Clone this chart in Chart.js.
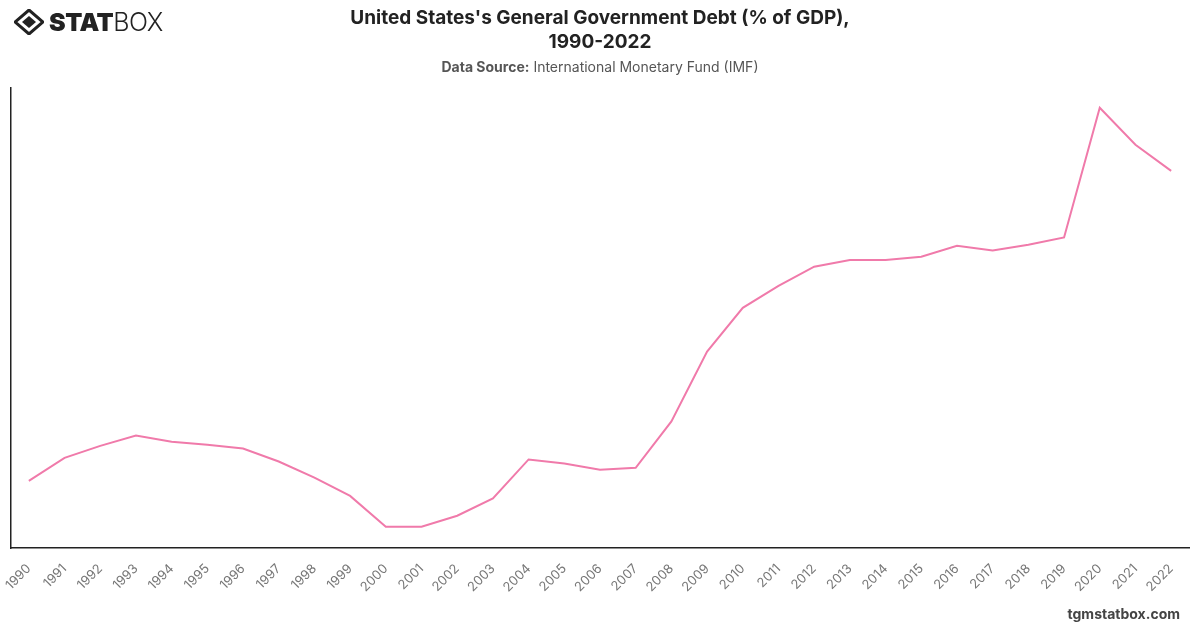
<!DOCTYPE html>
<html><head><meta charset="utf-8">
<script src="https://cdn.jsdelivr.net/npm/chart.js@4/dist/chart.umd.min.js"></script>
<style>
html,body{margin:0;padding:0;background:#fff;}
#wrap{position:relative;width:1200px;height:628px;overflow:hidden;font-family:Inter,"Liberation Sans",sans-serif;}
#c{position:absolute;left:0;top:0;}
#title{position:absolute;left:0;top:6px;width:1200px;text-align:center;font-weight:700;font-size:19px;line-height:24px;color:#222;}
#sub{position:absolute;left:0;top:58px;width:1200px;text-align:center;font-size:14px;color:#555;}
#sub b{font-weight:700;}
#logo{position:absolute;left:14px;top:8px;height:28px;display:flex;align-items:center;}
#logo .t1{font-weight:900;font-size:25px;color:#222;letter-spacing:-0.5px;margin-left:5px;}
#logo .t2{font-weight:300;font-size:25px;color:#222;letter-spacing:-0.5px;}
#foot{position:absolute;right:20px;top:605px;font-weight:700;font-size:14px;color:#444;}
</style></head>
<body><div id="wrap">
<canvas id="c" width="1200" height="628"></canvas>
<div id="logo"><svg width="30" height="26" viewBox="0 0 30 26"><path d="M15 1 L29 13 L15 25 L1 13 Z" fill="none" stroke="#222" stroke-width="3"/><path d="M15 7 L22 13 L15 19 L8 13 Z" fill="#222"/></svg><span class="t1">STAT</span><span class="t2">BOX</span></div>
<div id="title">United States's General Government Debt (% of GDP),<br>1990-2022</div>
<div id="sub"><b>Data Source:</b> International Monetary Fund (IMF)</div>
<div id="foot">tgmstatbox.com</div>
</div>
<script>
const years = ["1990","1991","1992","1993","1994","1995","1996","1997","1998","1999","2000","2001","2002","2003","2004","2005","2006","2007","2008","2009","2010","2011","2012","2013","2014","2015","2016","2017","2018","2019","2020","2021","2022"];
const debtPctGdp = [61.9,66.3,68.6,70.6,69.4,68.8,68.1,65.6,62.5,59.0,53.1,53.1,55.2,58.5,66.0,65.2,64.0,64.4,73.3,86.7,95.1,99.3,103.0,104.3,104.3,104.9,107.0,106.1,107.2,108.6,133.5,126.4,121.4];
const yMin = 49.0, yMax = 137.3;

new Chart(document.getElementById('c'), {
  type: 'line',
  data: { labels: years, datasets: [{ data: debtPctGdp, borderColor: '#f07aaa', backgroundColor: '#f07aaa', borderWidth: 2, pointRadius: 0, tension: 0, fill: false }] },
  options: {
    responsive: false, animation: false,
    layout: { padding: { top: 88, left: 0, right: 11, bottom: 0 } },
    plugins: { legend: { display: false }, tooltip: { enabled: false }, title: { display: false } },
    scales: {
      x: {
        offset: true,
        grid: { display: false, drawTicks: false },
        border: { display: true, color: '#222', width: 1.5 },
        ticks: { color: '#777', font: { family: 'Inter, "Liberation Sans", sans-serif', size: 13 }, minRotation: 45, maxRotation: 45, autoSkip: false, padding: 13 },
        afterFit: s => { s.height = 80; s.paddingLeft = 0; s.paddingRight = 0; }
      },
      y: {
        min: yMin, max: yMax,
        grid: { display: false, drawTicks: false },
        border: { display: true, color: '#222', width: 1.5 },
        ticks: { display: false },
        afterFit: s => { s.width = 11; }
      }
    }
  }
});
</script>
</body></html>
